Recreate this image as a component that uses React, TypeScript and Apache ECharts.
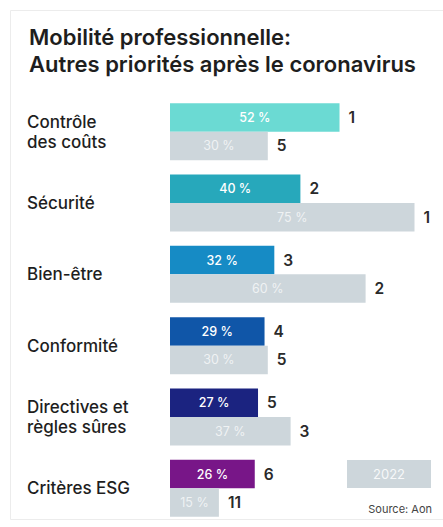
import React, { useEffect, useRef } from "react";
import * as echarts from "echarts";

const categories = [
  "Contrôle\ndes coûts",
  "Sécurité",
  "Bien-être",
  "Conformité",
  "Directives et\nrègles sûres",
  "Critères ESG",
];
const valuesEarlier = [52, 40, 32, 29, 27, 26];
const ranksEarlier = [1, 2, 3, 4, 5, 6];
const values2022 = [30, 75, 60, 30, 37, 15];
const ranks2022 = [5, 1, 2, 5, 3, 11];
const barColors = ["#6bdad3", "#27a8bb", "#168bc5", "#1056a8", "#1b2380", "#781688"];
const greyColor = "#cdd6db";
const legendLabel = "2022";
const sourceText = "Source: Aon";
const titleLines = ["Mobilité professionnelle:", "Autres priorités après le coronavirus"];

const FONT = "Inter, 'Liberation Sans', Arial, sans-serif";

export default function App() {
  const ref = useRef<HTMLDivElement>(null);
  useEffect(() => {
    if (!ref.current) return;
    const chart = echarts.init(ref.current, null, { renderer: "svg" });
    const rankLabel = (ranks: number[]) => ({
      show: true,
      position: "right",
      distance: 9,
      color: "#2a2a2a",
      fontSize: 15.5,
      fontWeight: 600,
      fontFamily: FONT,
      formatter: (p: any) => String(ranks[p.dataIndex]),
    });
    const titleStyle = {
      fontFamily: FONT,
      fontSize: 22,
      fontWeight: 600,
      color: "#1e1e1e",
    };
    chart.setOption({
      animation: false,
      backgroundColor: "#ffffff",
      title: [
        { text: titleLines[0], left: 24, top: 21, padding: 5, textStyle: titleStyle },
        { text: titleLines[1], left: 24, top: 47.5, padding: 5, textStyle: titleStyle },
      ],
      grid: { left: 170, right: 12.2, top: 96, bottom: 3, containLabel: false },
      xAxis: { type: "value", min: 0, max: 80, show: false },
      yAxis: {
        type: "category",
        data: categories,
        inverse: true,
        axisLine: { show: false },
        axisTick: { show: false },
        axisLabel: {
          align: "left",
          margin: 143,
          fontSize: 17,
          lineHeight: 20,
          fontWeight: 500,
          color: "#1e1e1e",
          fontFamily: FONT,
        },
      },
      series: [
        {
          type: "bar",
          stack: "a",
          barGap: "0%",
          barCategoryGap: "20%",
          data: valuesEarlier.map((v, i) => ({ value: v, itemStyle: { color: barColors[i] } })),
          label: {
            show: true,
            position: "inside",
            color: "#ffffff",
            fontSize: 12.5,
            fontWeight: 500,
            fontFamily: FONT,
            formatter: "{c} %",
          },
        },
        {
          type: "bar",
          stack: "a",
          barGap: "0%",
          data: valuesEarlier.map(() => 0),
          itemStyle: { color: "transparent" },
          label: rankLabel(ranksEarlier),
        },
        {
          type: "bar",
          stack: "b",
          barGap: "0%",
          data: values2022,
          itemStyle: { color: greyColor },
          label: {
            show: true,
            position: "inside",
            color: "rgba(255,255,255,0.7)",
            fontSize: 12.5,
            fontFamily: FONT,
            formatter: "{c} %",
          },
        },
        {
          type: "bar",
          stack: "b",
          barGap: "0%",
          data: values2022.map(() => 0),
          itemStyle: { color: "transparent" },
          label: rankLabel(ranks2022),
        },
      ],
      graphic: [
        {
          type: "rect",
          shape: { x: 10.5, y: 10.5, width: 450, height: 509 },
          style: { fill: "none", stroke: "#ececec", lineWidth: 1 },
          silent: true,
        },
        {
          type: "rect",
          shape: { x: 347, y: 460, width: 84, height: 28 },
          style: { fill: greyColor },
        },
        {
          type: "text",
          x: 389,
          y: 474,
          style: {
            text: legendLabel,
            fill: "rgba(255,255,255,0.85)",
            fontSize: 13,
            fontFamily: FONT,
            align: "center",
            verticalAlign: "middle",
          },
        },
        {
          type: "text",
          x: 432,
          y: 509,
          style: {
            text: sourceText,
            fill: "#444",
            fontSize: 11,
            fontFamily: FONT,
            align: "right",
            verticalAlign: "middle",
          },
        },
      ],
    });
    return () => chart.dispose();
  }, []);
  return (
    <div
      ref={ref}
      style={{ position: "absolute", left: 0, top: 0, width: 443, height: 527 }}
    />
  );
}
